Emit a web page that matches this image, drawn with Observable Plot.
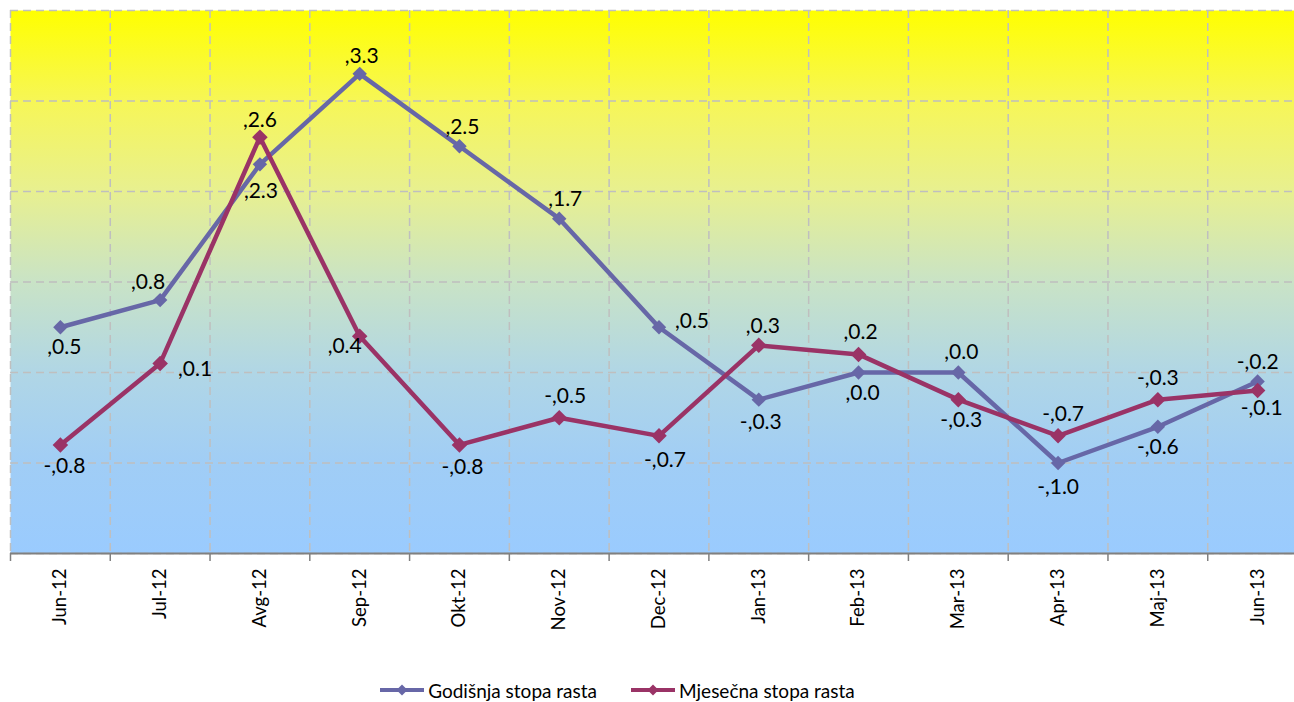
<!DOCTYPE html>
<html>
<head>
<meta charset="utf-8">
<script src="https://cdn.jsdelivr.net/npm/d3@7"></script>
<script src="https://cdn.jsdelivr.net/npm/@observablehq/plot@0.6"></script>
<style>
  body { margin: 0; background: #fff; font-family: Lato, "Open Sans", sans-serif; }
  #chart { position: absolute; left: 0; top: 0; }
  #legend { position: absolute; left: 0; top: 677px; width: 1234px; height: 26px;
    display: flex; justify-content: center; align-items: center; gap: 33px;
    font-family: Lato, sans-serif; font-size: 19px; color: #000; }
  .item { display: flex; align-items: center; gap: 3px; }
</style>
</head>
<body>
<div id="chart"></div>
<div id="legend"></div>
<script>
// ---- data ----
const categories = ["Jun-12","Jul-12","Avg-12","Sep-12","Okt-12","Nov-12","Dec-12","Jan-13","Feb-13","Mar-13","Apr-13","Maj-13","Jun-13"];
const seriesNames = ["Godišnja stopa rasta", "Mjesečna stopa rasta"];
const godisnja = [0.5, 0.8, 2.3, 3.3, 2.5, 1.7, 0.5, -0.3, 0.0, 0.0, -1.0, -0.6, -0.1];
const mjesecna = [-0.8, 0.1, 2.6, 0.4, -0.8, -0.5, -0.7, 0.3, 0.2, -0.3, -0.7, -0.3, -0.2];
const godisnjaLabels = [",0.5", ",0.8", ",2.3", ",3.3", ",2.5", ",1.7", ",0.5", "-,0.3", ",0.0", ",0.0", "-,1.0", "-,0.6", "-,0.1"];
const mjesecnaLabels = ["-,0.8", ",0.1", ",2.6", ",0.4", "-,0.8", "-,0.5", "-,0.7", ",0.3", ",0.2", "-,0.3", "-,0.7", "-,0.3", "-,0.2"];
const yTicks = [-2, -1, 0, 1, 2, 3, 4];

// ---- layout: label offsets in pixels (style, not data) ----
const godOffsets = [[4,20],[-12,-18],[1,27],[2,-18],[3,-19],[6,-19],[33,-6],[2,23],[4,21],[3,-20],[0,24],[0,20],[4,27]];
const mjeOffsets = [[4,21],[35,6],[0,-17],[-15,10],[3,22],[6,-21],[6,24],[4,-19],[2,-22],[3,21],[5,-22],[0,-21],[0,-28]];

const colors = ["#6767a7", "#9a3366"];

const idx = categories.map((_, i) => i);
const boundaries = d3.range(-0.5, categories.length, 1);
const rows = (vals) => vals.map((v, i) => ({i, v}));

const labelMarks = (vals, labels, offsets) => vals.map((v, i) =>
  Plot.text([{i, v, t: labels[i]}], {
    x: "i", y: "v", text: "t", dx: offsets[i][0], dy: offsets[i][1],
    fontSize: 21, fill: "#000", fontFamily: "Lato, sans-serif"
  }));

const plot = Plot.plot({
  width: 1294,
  height: 672,
  marginTop: 10,
  marginBottom: 119,
  marginLeft: 10,
  marginRight: 0,
  style: { fontFamily: "Lato, sans-serif", background: "transparent", overflow: "visible" },
  x: { type: "linear", domain: [-0.5, categories.length - 0.5], range: [10, 1307], axis: null },
  y: { domain: [-2, 4], axis: null },
  marks: [
    Plot.frame({ fill: "url(#bggrad)", stroke: "none" }),
    Plot.ruleY(yTicks, { stroke: "#bfbfbf", strokeWidth: 1.5, strokeDasharray: "8,5" }),
    Plot.ruleX(boundaries, { stroke: "#bfbfbf", strokeWidth: 1.5, strokeDasharray: "8,5" }),
    Plot.ruleY([-2], { stroke: "#808080", strokeWidth: 2 }),
    Plot.axisX(boundaries, { tickSize: 8, tickFormat: () => "", label: null, stroke: "#808080", strokeWidth: 1.5 }),
    Plot.axisX(idx, { tickSize: 0, tickPadding: 15, tickRotate: -90, label: null, tickFormat: (i) => categories[i],
      fontSize: 18.5, fill: "#000" }),
    Plot.line(rows(godisnja), { x: "i", y: "v", stroke: colors[0], strokeWidth: 4.5, strokeLinejoin: "round" }),
    Plot.dot(rows(godisnja), { x: "i", y: "v", symbol: "diamond2", r: 6.5, fill: colors[0] }),
    Plot.line(rows(mjesecna), { x: "i", y: "v", stroke: colors[1], strokeWidth: 4.5, strokeLinejoin: "round" }),
    Plot.dot(rows(mjesecna), { x: "i", y: "v", symbol: "diamond2", r: 7, fill: colors[1] }),
    ...labelMarks(godisnja, godisnjaLabels, godOffsets),
    ...labelMarks(mjesecna, mjesecnaLabels, mjeOffsets)
  ]
});

// gradient definition for the plot background
const ns = "http://www.w3.org/2000/svg";
const defs = document.createElementNS(ns, "defs");
defs.innerHTML = `<linearGradient id="bggrad" x1="0" y1="0" x2="0" y2="1">
  <stop offset="0" stop-color="#ffff00"/>
  <stop offset="0.17" stop-color="#f6f658"/>
  <stop offset="0.33" stop-color="#e8f08f"/>
  <stop offset="0.5" stop-color="#c9e3c6"/>
  <stop offset="0.67" stop-color="#b0d6e6"/>
  <stop offset="0.84" stop-color="#a0cdf6"/>
  <stop offset="1" stop-color="#9acbfe"/>
</linearGradient>`;
plot.insertBefore(defs, plot.firstChild);
document.getElementById("chart").appendChild(plot);

// legend
const legend = document.getElementById("legend");
seriesNames.forEach((name, k) => {
  const item = document.createElement("div");
  item.className = "item";
  item.innerHTML = `<svg width="46" height="14"><line x1="1" y1="7" x2="45" y2="7" stroke="${colors[k]}" stroke-width="4"/>
    <path d="M23,1.5 L28.5,7 L23,12.5 L17.5,7 Z" fill="${colors[k]}"/></svg><span>${name}</span>`;
  legend.appendChild(item);
});
</script>
</body>
</html>
